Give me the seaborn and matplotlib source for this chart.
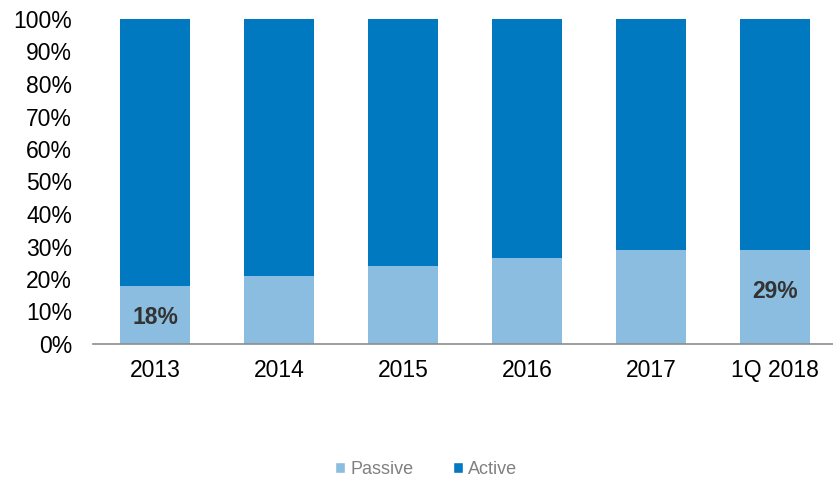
import matplotlib
matplotlib.use("Agg")
import matplotlib.pyplot as plt
from matplotlib.patches import Patch
import seaborn as sns
import pandas as pd

# Share of assets: passive vs active (percent)
periods = ["2013", "2014", "2015", "2016", "2017", "1Q 2018"]
passive = [18, 21, 24, 26.5, 29, 29]
active = [100 - p for p in passive]
labelled = {"2013": "18%", "1Q 2018": "29%"}

PASSIVE_C = "#8BBDE0"
ACTIVE_C = "#0079C1"

sns.set_theme(style="white")
plt.rcParams["font.family"] = ["Liberation Sans", "DejaVu Sans"]

df = pd.DataFrame({"period": periods, "passive": passive, "active": active})
df["total"] = df["passive"] + df["active"]

fig = plt.figure(figsize=(8.33, 4.78), dpi=100)
ax = fig.add_axes([93 / 833, 1 - 344 / 478, 744 / 833, 325 / 478])

# stacked bars: full-height active layer, passive layer on top of it from zero
sns.barplot(data=df, x="period", y="total", color=ACTIVE_C, width=0.565,
            saturation=1, linewidth=0, ax=ax)
sns.barplot(data=df, x="period", y="passive", color=PASSIVE_C, width=0.565,
            saturation=1, linewidth=0, ax=ax)

# value labels inside the passive segment
label_pos = {"2013": 0.46, "1Q 2018": 0.56}
for i, per in enumerate(periods):
    if per in labelled:
        ax.text(i, passive[i] * label_pos[per], labelled[per], ha="center",
                va="center", fontsize=16.5, fontweight="bold", color="#333333")

ax.set_xlim(-0.5, 5.5)
ax.set_ylim(0, 100)
ax.set_yticks(range(0, 101, 10))
ax.set_yticklabels([f"{v}%" for v in range(0, 101, 10)])
ax.set_xlabel("")
ax.set_ylabel("")
ax.tick_params(axis="both", length=0, labelsize=16.5, colors="#000000")
ax.tick_params(axis="x", pad=11)
ax.tick_params(axis="y", pad=15)

for side in ["top", "right", "left"]:
    ax.spines[side].set_visible(False)
ax.spines["bottom"].set_color("#8C8C8C")
ax.spines["bottom"].set_linewidth(1.2)

handles = [Patch(facecolor=PASSIVE_C, label="Passive"),
           Patch(facecolor=ACTIVE_C, label="Active")]
leg = fig.legend(handles=handles, loc="center", bbox_to_anchor=(426 / 833, 1 - 469 / 478),
                 ncol=2, frameon=False, fontsize=13, handlelength=0.55, handleheight=0.55,
                 handletextpad=0.3, columnspacing=2.2, borderpad=0)
for t in leg.get_texts():
    t.set_color("#808080")

fig.savefig("out.png", dpi=100)
